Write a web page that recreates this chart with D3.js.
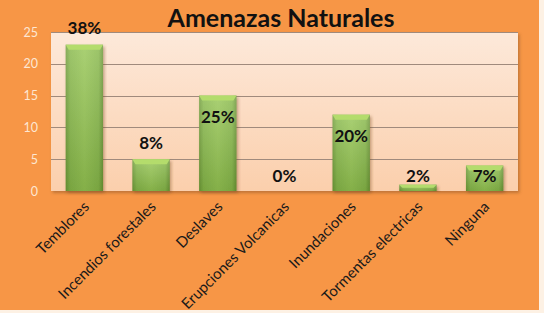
<!DOCTYPE html>
<html>
<head>
<meta charset="utf-8">
<script src="https://cdn.jsdelivr.net/npm/d3@7"></script>
<style>
  body { margin: 0; background: #fdf1e4; }
  svg { display: block; }
</style>
</head>
<body>
<svg class="chart"></svg>
<script>
var categories = ['Temblores', 'Incendios forestales', 'Deslaves',
  'Erupciones Volcanicas', 'Inundaciones', 'Tormentas electricas', 'Ninguna'];
var counts = [23, 5, 15, 0, 12, 1, 4];
var percentLabels = ['38%', '8%', '25%', '0%', '20%', '2%', '7%'];
var yTicks = [0, 5, 10, 15, 20, 25];
var title = 'Amenazas Naturales';

var width = 544;
var height = 313;
var plot = {left: 51, right: 518, top: 32, bottom: 191};

var chart = d3.select('.chart').attr('width', width).attr('height', height);

var defs = chart.append('defs');

var plotGrad = defs.append('linearGradient')
    .attr('id', 'plotGrad').attr('x1', 0).attr('y1', 0).attr('x2', 0).attr('y2', 1);
plotGrad.append('stop').attr('offset', '0%').attr('stop-color', '#fde9da');
plotGrad.append('stop').attr('offset', '100%').attr('stop-color', '#fbcfac');

var barGrad = defs.append('linearGradient')
    .attr('id', 'barGrad').attr('x1', 0).attr('y1', 0).attr('x2', 1).attr('y2', 0);
barGrad.append('stop').attr('offset', '0%').attr('stop-color', '#6e9a38');
barGrad.append('stop').attr('offset', '12%').attr('stop-color', '#88b84b');
barGrad.append('stop').attr('offset', '50%').attr('stop-color', '#97c655');
barGrad.append('stop').attr('offset', '88%').attr('stop-color', '#88b84b');
barGrad.append('stop').attr('offset', '100%').attr('stop-color', '#6a9535');

var barShade = defs.append('linearGradient')
    .attr('id', 'barShade').attr('x1', 0).attr('y1', 0).attr('x2', 0).attr('y2', 1);
barShade.append('stop').attr('offset', '0%').attr('stop-color', '#ffffff').attr('stop-opacity', 0.18);
barShade.append('stop').attr('offset', '100%').attr('stop-color', '#2f4a10').attr('stop-opacity', 0.18);

var shadow = defs.append('filter').attr('id', 'shadow')
    .attr('x', '-5%').attr('y', '-5%').attr('width', '115%').attr('height', '120%');
shadow.append('feDropShadow').attr('dx', 1.5).attr('dy', 2).attr('stdDeviation', 1.5)
    .attr('flood-color', '#7a4a20').attr('flood-opacity', 0.45);

// Orange chart background
chart.append('rect')
    .attr('x', 0).attr('y', 0).attr('width', 539).attr('height', 310)
    .attr('fill', '#f79646');

var x = d3.scaleBand()
    .domain(categories)
    .range([plot.left, plot.right])
    .paddingInner(0.44)
    .paddingOuter(0.22);

var y = d3.scaleLinear().domain([0, 25]).range([plot.bottom, plot.top]);

// Plot area
chart.append('rect')
    .attr('x', plot.left).attr('y', plot.top)
    .attr('width', plot.right - plot.left).attr('height', plot.bottom - plot.top)
    .attr('fill', 'url(#plotGrad)')
    .attr('filter', 'url(#shadow)');

// Gridlines
chart.append('g')
    .selectAll('line')
    .data(yTicks.filter(d => d > 0))
    .join('line')
    .attr('x1', plot.left).attr('x2', plot.right)
    .attr('y1', d => Math.round(y(d)) + 0.5).attr('y2', d => Math.round(y(d)) + 0.5)
    .attr('stroke', '#a08a7c').attr('stroke-width', 1);

// Y axis labels
var yAxis = d3.axisLeft(y).tickValues(yTicks).tickSize(0).tickPadding(0);
var yg = chart.append('g')
    .attr('transform', 'translate(38,0)')
    .call(yAxis);
yg.select('.domain').remove();
yg.selectAll('text')
    .attr('fill', '#fde7d3')
    .style('font-family', 'Lato, "Open Sans", sans-serif')
    .style('font-size', '12.5px');

// Bars
var bars = chart.append('g')
    .selectAll('g.bar')
    .data(counts.map((c, i) => ({cat: categories[i], value: c, label: percentLabels[i]})))
    .join('g')
    .attr('class', 'bar')
    .attr('filter', 'url(#shadow)');

bars.filter(d => d.value > 0).append('rect')
    .attr('x', d => x(d.cat))
    .attr('y', d => y(d.value))
    .attr('width', x.bandwidth())
    .attr('height', d => y(0) - y(d.value))
    .attr('fill', 'url(#barGrad)');

bars.filter(d => d.value > 0).append('rect')
    .attr('x', d => x(d.cat))
    .attr('y', d => y(d.value))
    .attr('width', x.bandwidth())
    .attr('height', d => y(0) - y(d.value))
    .attr('fill', 'url(#barShade)');

// top bevel
bars.filter(d => d.value > 0).append('path')
    .attr('d', d => {
      var x0 = x(d.cat), x1 = x0 + x.bandwidth(), t = y(d.value);
      var b = Math.min(5, (y(0) - t) / 2);
      return 'M' + x0 + ',' + t + 'L' + x1 + ',' + t + 'L' + (x1 - 3) + ',' + (t + b) +
          'L' + (x0 + 3) + ',' + (t + b) + 'Z';
    })
    .attr('fill', '#b4dc6c');

// Data labels (nudged as in the original)
var labelNudge = [-17, -16, 21, -15, 21, -9, 10];
chart.append('g')
    .selectAll('text')
    .data(counts)
    .join('text')
    .attr('x', (d, i) => x(categories[i]) + x.bandwidth() / 2)
    .attr('y', (d, i) => y(d) + labelNudge[i])
    .attr('dy', '0.35em')
    .attr('text-anchor', 'middle')
    .attr('fill', '#111')
    .style('font-family', 'Lato, "Open Sans", sans-serif')
    .style('font-weight', 'bold')
    .style('font-size', '17px')
    .text((d, i) => percentLabels[i]);

// Category labels
var xAxis = d3.axisBottom(x).tickSize(0).tickPadding(0);
var xg = chart.append('g')
    .attr('transform', 'translate(0,' + (plot.bottom + 13) + ')')
    .call(xAxis);
xg.select('.domain').remove();
xg.selectAll('text')
    .attr('fill', '#1a1a1a')
    .attr('text-anchor', 'end')
    .attr('dy', '0.35em')
    .attr('y', 0)
    .attr('transform', 'translate(2,0) rotate(-45)')
    .style('font-family', 'Lato, "Open Sans", sans-serif')
    .style('font-size', '15px');

// Title
chart.append('text')
    .attr('x', 281)
    .attr('y', 27)
    .attr('text-anchor', 'middle')
    .attr('fill', '#111')
    .style('font-family', 'Lato, "Open Sans", sans-serif')
    .style('font-weight', 'bold')
    .style('font-size', '25px')
    .text(title);
</script>
</body>
</html>
